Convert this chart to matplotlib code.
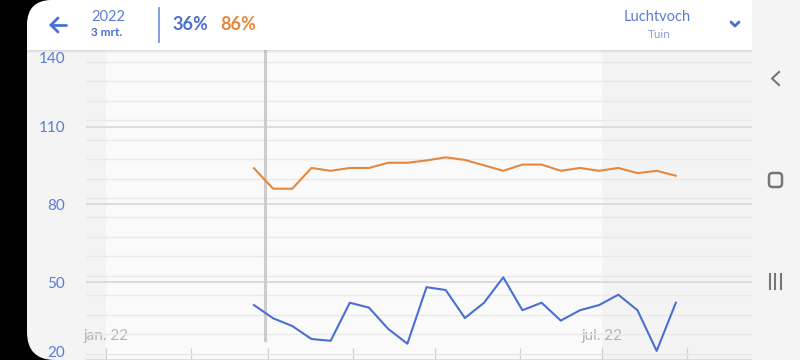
import numpy as np
import pandas as pd
import matplotlib
matplotlib.use("Agg")
import matplotlib.pyplot as plt
import matplotlib.dates as mdates
from matplotlib.patches import FancyBboxPatch, Rectangle
from matplotlib.ticker import MultipleLocator

# ---------------- data ----------------
min_pct = [41.2, 36.1, 33.1, 28.1, 27.4, 42.1, 40.2, 32.0, 26.3, 48.1, 47.0, 36.2,
           42.1, 51.9, 39.2, 42.1, 35.2, 39.2, 41.2, 45.2, 39.2, 23.5, 42.1]
max_pct = [94.0, 86.1, 86.1, 94.1, 93.0, 94.1, 94.1, 96.1, 96.1, 97.0, 98.2, 97.2,
           95.1, 93.0, 95.4, 95.4, 93.0, 94.1, 93.0, 94.1, 92.1, 93.0, 91.1]
first_week = "2022-02-24"
y_ticks = [20, 50, 80, 110, 140]
month_ticks = ["2022-01-01", "2022-02-01", "2022-03-01", "2022-04-01",
               "2022-05-01", "2022-06-01", "2022-07-01", "2022-08-01"]
month_labels = ["jan. 22", "", "", "", "", "", "jul. 22", ""]
cursor_date = "2022-02-28"
cursor_index = 1
header_year = "2022"
header_day = "3 mrt."
sensor_name = "Luchtvoch"
sensor_room = "Tuin"

dates = pd.date_range(first_week, periods=len(min_pct), freq="7D")

BLUE = "#4a6fd1"
ORANGE = "#e5883d"
LBLUE = "#5b7bd6"
FONT = "Lato"

W, H = 800, 360
fig = plt.figure(figsize=(W / 100, H / 100), dpi=100, facecolor="black")

# ---------- background (screen) ----------
bg = fig.add_axes([0, 0, 1, 1], zorder=-1)
bg.set_xlim(0, W); bg.set_ylim(H, 0); bg.axis("off")
bg.set_facecolor("black")
bg.add_patch(Rectangle((0, 0), W, H, fc="black", ec="none"))
bg.add_patch(FancyBboxPatch((27, 0), 900, H, boxstyle="round,pad=0,rounding_size=28",
                            fc="#f4f4f4", ec="none"))

# ---------- chart ----------
ax = fig.add_axes([86 / W, 0, (752 - 86) / W, 1 - 49 / H], zorder=0)
ax.set_facecolor("#f3f3f3")
jan1 = mdates.date2num(pd.Timestamp("2022-01-01"))
ax.set_xlim(jan1 - 7.3, jan1 + 235.8)
ax.set_ylim(20, 140)
ax.axvspan(pd.Timestamp("2022-01-01"), pd.Timestamp("2022-07-01"), color="#fafafa", zorder=0, lw=0)

for s in ax.spines.values():
    s.set_visible(False)

ax.set_yticks(y_ticks)
ax.set_yticklabels([str(v) if v != max(y_ticks) else "" for v in y_ticks], fontfamily=FONT)
ax.yaxis.set_minor_locator(MultipleLocator(7.5))
ax.grid(which="major", axis="y", color="#d9d9d9", lw=1.3, zorder=1)
ax.grid(which="minor", axis="y", color="#e9e9e9", lw=1.0, zorder=1)
ax.tick_params(axis="y", which="both", length=0, pad=15, labelcolor=LBLUE, labelsize=11)
ticks = ax.yaxis.get_major_ticks()
ticks[0].label1.set_va("bottom")
# top label is kept just below the header, as in the app
ax.annotate(str(max(y_ticks)), xy=(0, max(y_ticks)), xycoords=("axes fraction", "data"),
            xytext=(-15, -7.5), textcoords="offset points", ha="right", va="center",
            fontsize=11, color=LBLUE, family=FONT)

ax.set_xticks([pd.Timestamp(d) for d in month_ticks])
ax.set_xticklabels(month_labels, fontfamily=FONT)
ax.tick_params(axis="x", direction="in", length=8.6, width=0.9, color="#cfcfcf",
               labelcolor="#b3b3b3", labelsize=11, pad=-22)

ymin_cursor = (27.75 - 20) / (140 - 20)
ax.axvline(pd.Timestamp(cursor_date), ymin=ymin_cursor, ymax=1, color="#cccccc", lw=2.2, zorder=2)

ax.plot(dates, max_pct, color=ORANGE, lw=1.5, zorder=3, solid_joinstyle="round")
ax.plot(dates, min_pct, color=BLUE, lw=1.5, zorder=3, solid_joinstyle="round")

# ---------- overlay (header + nav) ----------
ov = fig.add_axes([0, 0, 1, 1], zorder=5)
ov.set_xlim(0, W); ov.set_ylim(H, 0); ov.axis("off")
ov.patch.set_alpha(0)

# shadow under header
for i, a in enumerate([0.10, 0.06, 0.03]):
    ov.add_patch(Rectangle((27, 50 + i), 725, 1, fc="black", alpha=a, ec="none"))
# header white with rounded top-left only
ov.add_patch(FancyBboxPatch((27, 0), 725, 50, boxstyle="round,pad=0,rounding_size=25",
                            fc="white", ec="none"))
ov.add_patch(Rectangle((27, 25), 725, 25, fc="white", ec="none"))
ov.add_patch(Rectangle((52, 0), 700, 50, fc="white", ec="none"))

# back arrow
ov.plot([51, 66], [25, 25], color=BLUE, lw=2, solid_capstyle="round")
ov.plot([58, 51, 58], [18, 25, 32], color=BLUE, lw=2, solid_capstyle="round", solid_joinstyle="miter")

ov.text(91, 17, header_year, fontsize=10.5, color=LBLUE, family=FONT, va="center", ha="left")
ov.text(91, 33, header_day, fontsize=8.5, color=BLUE, family=FONT, weight="bold", va="center", ha="left")
ov.plot([159, 159], [8, 42], color="#7b95dd", lw=1.3)
ov.text(172, 25, f"{round(min_pct[cursor_index])}%", fontsize=13, color=BLUE, family=FONT,
        weight="bold", va="center", ha="left")
ov.text(220, 25, f"{round(max_pct[cursor_index])}%", fontsize=13, color=ORANGE, family=FONT,
        weight="bold", va="center", ha="left")
ov.text(657, 17, sensor_name, fontsize=10.5, color=LBLUE, family=FONT, va="center", ha="center")
ov.text(659, 34, sensor_room, fontsize=8.5, color="#8a9fd8", family=FONT, va="center", ha="center")
ov.plot([731, 735, 739], [22, 26, 22], color=BLUE, lw=2, solid_capstyle="round")

# nav bar icons
NAV = "#767676"
ov.plot([779, 772, 779], [72, 78.5, 85], color=NAV, lw=1.5)
ov.add_patch(FancyBboxPatch((769, 173), 13, 14, boxstyle="round,pad=0,rounding_size=3.5",
                            fc="none", ec=NAV, lw=1.8))
for xx in (769.5, 775, 780.5):
    ov.plot([xx, xx], [274, 289], color=NAV, lw=1.5)

fig.savefig("out.png", dpi=100, facecolor="black")
